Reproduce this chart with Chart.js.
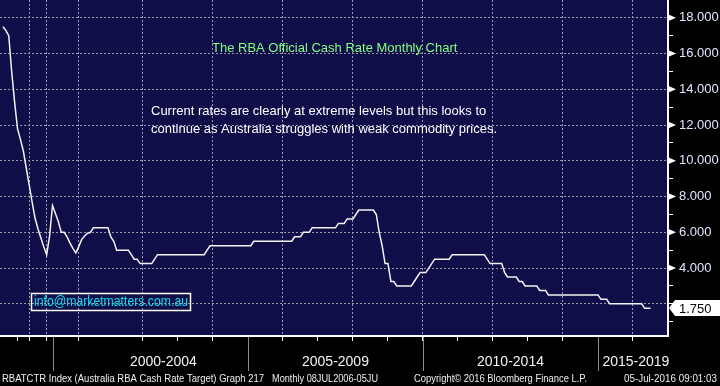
<!DOCTYPE html>
<html>
<head>
<meta charset="utf-8">
<script src="https://cdn.jsdelivr.net/npm/chart.js@4.4.0/dist/chart.umd.min.js"></script>
<style>
  html, body { margin: 0; padding: 0; background: #000; }
</style>
</head>
<body>
<canvas id="chart" width="720" height="386"></canvas>
<script>
// the 1990s are squeezed on the source chart, so those samples are sparse
const earlyMonths = ['1990-01','1990-02','1990-04','1990-06','1990-09','1990-12','1991-03','1991-05',
  '1991-08','1991-11','1992-02','1992-05','1992-08','1992-12','1993-04','1993-09','1994-08','1994-12',
  '1996-07','1996-11','1997-01','1997-04','1997-06','1997-09','1998-06','1999-06','1999-11','2000-02',
  '2000-04','2000-05','2000-07'];
const earlyRates = [17.5, 17.3, 17.0, 15.0, 13.3, 11.8, 11.2, 10.55, 9.6, 8.65, 7.7, 6.8, 6.2, 5.7, 5.2,
  4.75, 5.8, 7.5, 7.05, 6.6, 6.0, 6.0, 5.75, 5.4, 5.1, 4.85, 5.2, 5.6, 5.8, 5.95, 6.0];

// monthly from Aug 2000 to Jul 2016, one row per year
const monthlyRates = [
  6.25, 6.25, 6.25, 6.25, 6.25,
  6.25, 5.75, 5.5, 5.0, 5.0, 5.0, 5.0, 5.0, 4.75, 4.5, 4.5, 4.25,
  4.25, 4.25, 4.25, 4.25, 4.5, 4.75, 4.75, 4.75, 4.75, 4.75, 4.75, 4.75,
  4.75, 4.75, 4.75, 4.75, 4.75, 4.75, 4.75, 4.75, 4.75, 4.75, 5.0, 5.25,
  5.25, 5.25, 5.25, 5.25, 5.25, 5.25, 5.25, 5.25, 5.25, 5.25, 5.25, 5.25,
  5.25, 5.25, 5.5, 5.5, 5.5, 5.5, 5.5, 5.5, 5.5, 5.5, 5.5, 5.5,
  5.5, 5.5, 5.5, 5.5, 5.75, 5.75, 5.75, 6.0, 6.0, 6.0, 6.25, 6.25,
  6.25, 6.25, 6.25, 6.25, 6.25, 6.25, 6.25, 6.5, 6.5, 6.5, 6.75, 6.75,
  6.75, 7.0, 7.25, 7.25, 7.25, 7.25, 7.25, 7.25, 7.0, 6.0, 5.25, 4.25,
  4.25, 3.25, 3.25, 3.0, 3.0, 3.0, 3.0, 3.0, 3.0, 3.25, 3.5, 3.75,
  3.75, 3.75, 4.0, 4.25, 4.5, 4.5, 4.5, 4.5, 4.5, 4.5, 4.75, 4.75,
  4.75, 4.75, 4.75, 4.75, 4.75, 4.75, 4.75, 4.75, 4.75, 4.75, 4.5, 4.25,
  4.25, 4.25, 4.25, 4.25, 3.75, 3.5, 3.5, 3.5, 3.5, 3.25, 3.25, 3.0,
  3.0, 3.0, 3.0, 3.0, 2.75, 2.75, 2.75, 2.5, 2.5, 2.5, 2.5, 2.5,
  2.5, 2.5, 2.5, 2.5, 2.5, 2.5, 2.5, 2.5, 2.5, 2.5, 2.5, 2.5,
  2.5, 2.25, 2.25, 2.25, 2.0, 2.0, 2.0, 2.0, 2.0, 2.0, 2.0, 2.0,
  2.0, 2.0, 2.0, 2.0, 1.75, 1.75, 1.75
];

const yTicks = [1, 2, 3, 4, 5, 6, 7, 8, 9, 10, 11, 12, 13, 14, 15, 16, 17, 18];
const yLabelled = [4, 6, 8, 10, 12, 14, 16, 18];
const lastRate = 1.75;

const tickMonths = ['1990-12','1991-11','1993-09','1999-11','2002-01','2003-01','2004-01','2006-01','2007-01',
  '2008-01','2009-01','2010-01','2011-01','2012-01','2013-01','2014-01','2016-01'];
const gridMonths = ['1991-11','1993-09','1999-11','2002-01','2004-01','2006-01','2008-01','2010-01','2012-01',
  '2014-01','2016-01'];
const groupStarts = ['1994-12','2005-01','2010-01','2015-01'];
const groupLabels = ['2000-2004','2005-2009','2010-2014','2015-2019'];
const groupCentres = ['2002-08','2007-07','2012-07','2016-02'];

function monthRange(from, count) {
  const out = [];
  let [y, m] = from.split('-').map(Number);
  for (let i = 0; i < count; i++) {
    out.push(y + '-' + String(m).padStart(2, '0'));
    m++;
    if (m > 12) { m = 1; y++; }
  }
  return out;
}

const monthlyMonths = monthRange('2000-08', monthlyRates.length);
const trailMonths = monthRange('2016-08', 6);
const categories = ['1989-12', ...earlyMonths, ...monthlyMonths, ...trailMonths];
const rates = [null, ...earlyRates, ...monthlyRates, ...trailMonths.map(() => null)];

const idx = m => categories.indexOf(m);
const tickIdx = tickMonths.map(idx);
const gridIdx = gridMonths.map(idx);

const FONT = '"Liberation Sans", Arial, sans-serif';
const gridColor = '#9a9aaa';
const clear = 'rgba(0,0,0,0)';

// squeeze text horizontally so it spans a given width, like the narrow source font
function fitText(ctx, text, x, y, width) {
  const w = ctx.measureText(text).width;
  ctx.save();
  ctx.translate(x, y);
  ctx.scale(width / w, 1);
  ctx.fillText(text, 0, 0);
  ctx.restore();
}

const decor = {
  id: 'decor',
  beforeDraw(chart) {
    const { ctx, chartArea: a } = chart;
    ctx.save();
    ctx.fillStyle = '#000';
    ctx.fillRect(0, 0, chart.width, chart.height);
    ctx.fillStyle = '#100e48';
    ctx.fillRect(a.left, a.top, a.right - a.left, a.bottom - a.top);
    ctx.restore();
  },
  afterDraw(chart) {
    const { ctx, chartArea: a, scales: { x, y } } = chart;
    ctx.save();

    // pointers beside labelled y ticks
    ctx.fillStyle = '#fff';
    yLabelled.forEach(v => {
      const py = y.getPixelForValue(v);
      ctx.beginPath();
      ctx.moveTo(a.right, py - 3.5);
      ctx.lineTo(a.right + 8, py);
      ctx.lineTo(a.right, py + 3.5);
      ctx.closePath();
      ctx.fill();
    });

    // last value tag
    const ly = Math.round(y.getPixelForValue(lastRate));
    ctx.beginPath();
    ctx.moveTo(a.right + 1, ly);
    ctx.lineTo(a.right + 7, ly - 8);
    ctx.lineTo(chart.width, ly - 8);
    ctx.lineTo(chart.width, ly + 8);
    ctx.lineTo(a.right + 7, ly + 8);
    ctx.closePath();
    ctx.fill();
    ctx.fillStyle = '#000';
    ctx.font = '13px ' + FONT;
    ctx.textBaseline = 'middle';
    ctx.textAlign = 'left';
    ctx.fillText(lastRate.toFixed(3), a.right + 11, ly + 1);

    // period separators and labels under the x axis
    ctx.strokeStyle = '#8a8a8a';
    ctx.lineWidth = 1;
    groupStarts.forEach(m => {
      const px = Math.round(x.getPixelForValue(idx(m))) + 0.5;
      ctx.beginPath();
      ctx.moveTo(px, a.bottom + 1);
      ctx.lineTo(px, a.bottom + 35);
      ctx.stroke();
    });
    ctx.fillStyle = '#f4f4f4';
    ctx.font = '14px ' + FONT;
    ctx.textAlign = 'center';
    groupLabels.forEach((t, i) => {
      ctx.fillText(t, x.getPixelForValue(idx(groupCentres[i])), a.bottom + 26);
    });

    // footer
    ctx.font = '11px ' + FONT;
    ctx.fillStyle = '#eeeeee';
    ctx.textAlign = 'left';
    fitText(ctx, 'RBATCTR Index (Australia RBA Cash Rate Target) Graph 217', 2, 379, 262);
    fitText(ctx, 'Monthly 08JUL2006-05JU', 272, 379, 106);
    fitText(ctx, 'Copyright\u00a9 2016 Bloomberg Finance L.P.', 414, 379, 173);
    fitText(ctx, '05-Jul-2016 09:01:03', 624, 379, 93);

    // annotations inside the plot
    ctx.font = '13px ' + FONT;
    ctx.fillStyle = '#80ff80';
    ctx.fillText('The RBA Official Cash Rate Monthly Chart', 212, 48);
    ctx.fillStyle = '#ffffff';
    ctx.fillText('Current rates are clearly at extreme levels but this looks to', 151, 111);
    ctx.fillText('continue as Australia struggles with weak commodity prices.', 151, 129);

    ctx.strokeStyle = '#ffffff';
    ctx.lineWidth = 1.5;
    ctx.strokeRect(31.5, 293.5, 159, 17);
    ctx.fillStyle = '#10dcec';
    ctx.font = '14px ' + FONT;
    fitText(ctx, 'info@marketmatters.com.au', 34, 302.5, 154);

    ctx.restore();
  }
};

new Chart(document.getElementById('chart'), {
  type: 'line',
  data: {
    labels: categories,
    datasets: [{
      data: rates,
      borderColor: '#f2f2f2',
      borderWidth: 1.5,
      pointRadius: 0,
      tension: 0,
      spanGaps: false
    }]
  },
  options: {
    responsive: false,
    devicePixelRatio: 1,
    animation: false,
    layout: { padding: 0 },
    plugins: { legend: { display: false }, tooltip: { enabled: false } },
    scales: {
      x: {
        type: 'category',
        offset: false,
        afterBuildTicks: s => { s.ticks = tickIdx.map(v => ({ value: v })); },
        afterFit: s => { s.height = 50; s.paddingLeft = 0; s.paddingRight = 0; },
        ticks: { display: false },
        grid: {
          color: c => (c.tick && gridIdx.includes(c.tick.value)) ? gridColor : clear,
          lineWidth: 1,
          drawTicks: true,
          tickLength: 5,
          tickColor: '#ffffff'
        },
        border: { display: true, color: '#ffffff', width: 2, dash: [2, 2] }
      },
      y: {
        position: 'right',
        min: 0.2,
        max: 19.0,
        afterBuildTicks: s => { s.ticks = yTicks.map(v => ({ value: v })); },
        afterFit: s => { s.width = 52; s.paddingTop = 0; s.paddingBottom = 0; },
        ticks: {
          autoSkip: false,
          padding: 6,
          color: '#dde8ff',
          font: { family: FONT, size: 13 },
          callback: v => yLabelled.includes(v) ? v.toFixed(3) : ''
        },
        grid: {
          color: c => (c.tick && c.tick.value % 2 === 0) ? gridColor : clear,
          lineWidth: 1,
          drawTicks: true,
          tickLength: 5,
          tickColor: '#ffffff'
        },
        border: { display: true, color: '#ffffff', width: 2, dash: [2, 2] }
      }
    }
  },
  plugins: [decor]
});
</script>
</body>
</html>
